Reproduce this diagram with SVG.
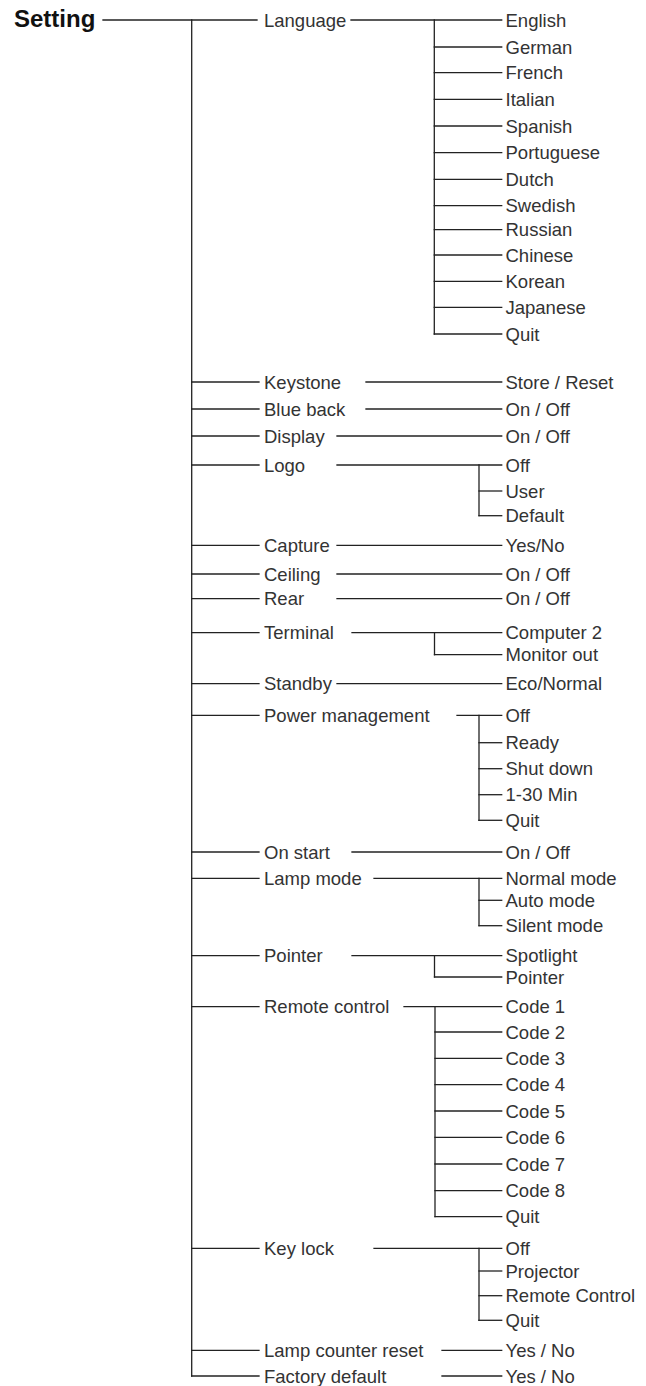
<svg xmlns="http://www.w3.org/2000/svg" width="646" height="1386" viewBox="0 0 646 1386">
<style>
.t{font-family:"Liberation Sans",Arial,sans-serif;font-size:18.5px;fill:#333}
.h{font-family:"Liberation Sans",Arial,sans-serif;font-size:24px;font-weight:bold;fill:#111}
.c line{stroke:#222;stroke-width:1.3;stroke-linecap:square}
</style>
<rect width="646" height="1386" fill="#fff"/>
<g class="c" id="connectors">
<line x1="103" y1="20" x2="257" y2="20"/>
<line x1="191.7" y1="20" x2="191.7" y2="1376"/>
<line x1="191.7" y1="382" x2="259" y2="382"/>
<line x1="191.7" y1="409" x2="259" y2="409"/>
<line x1="191.7" y1="436" x2="259" y2="436"/>
<line x1="191.7" y1="465" x2="259" y2="465"/>
<line x1="191.7" y1="545.3" x2="259" y2="545.3"/>
<line x1="191.7" y1="574" x2="259" y2="574"/>
<line x1="191.7" y1="598.7" x2="259" y2="598.7"/>
<line x1="191.7" y1="632.7" x2="259" y2="632.7"/>
<line x1="191.7" y1="683.7" x2="259" y2="683.7"/>
<line x1="191.7" y1="715.3" x2="259" y2="715.3"/>
<line x1="191.7" y1="852" x2="259" y2="852"/>
<line x1="191.7" y1="878.3" x2="259" y2="878.3"/>
<line x1="191.7" y1="955.7" x2="259" y2="955.7"/>
<line x1="191.7" y1="1006.7" x2="259" y2="1006.7"/>
<line x1="191.7" y1="1248.3" x2="259" y2="1248.3"/>
<line x1="191.7" y1="1350.3" x2="259" y2="1350.3"/>
<line x1="191.7" y1="1376" x2="259" y2="1376"/>
<line x1="351" y1="20" x2="501.7" y2="20"/>
<line x1="434.3" y1="20" x2="434.3" y2="334"/>
<line x1="434.3" y1="47" x2="501.7" y2="47"/>
<line x1="434.3" y1="72.7" x2="501.7" y2="72.7"/>
<line x1="434.3" y1="99.3" x2="501.7" y2="99.3"/>
<line x1="434.3" y1="126" x2="501.7" y2="126"/>
<line x1="434.3" y1="152.7" x2="501.7" y2="152.7"/>
<line x1="434.3" y1="179.3" x2="501.7" y2="179.3"/>
<line x1="434.3" y1="205.7" x2="501.7" y2="205.7"/>
<line x1="434.3" y1="229.7" x2="501.7" y2="229.7"/>
<line x1="434.3" y1="255" x2="501.7" y2="255"/>
<line x1="434.3" y1="281.3" x2="501.7" y2="281.3"/>
<line x1="434.3" y1="307.3" x2="501.7" y2="307.3"/>
<line x1="434.3" y1="334" x2="501.7" y2="334"/>
<line x1="366" y1="382" x2="501.7" y2="382"/>
<line x1="366" y1="409" x2="501.7" y2="409"/>
<line x1="337" y1="436" x2="501.7" y2="436"/>
<line x1="337" y1="465" x2="501.7" y2="465"/>
<line x1="479" y1="465" x2="479" y2="515.7"/>
<line x1="479" y1="491" x2="501.7" y2="491"/>
<line x1="479" y1="515.7" x2="501.7" y2="515.7"/>
<line x1="337" y1="545.3" x2="501.7" y2="545.3"/>
<line x1="337" y1="574" x2="501.7" y2="574"/>
<line x1="337" y1="598.7" x2="501.7" y2="598.7"/>
<line x1="352" y1="632.7" x2="501.7" y2="632.7"/>
<line x1="434.5" y1="632.7" x2="434.5" y2="654.7"/>
<line x1="434.5" y1="654.7" x2="501.7" y2="654.7"/>
<line x1="337" y1="683.7" x2="501.7" y2="683.7"/>
<line x1="457" y1="715.3" x2="501.7" y2="715.3"/>
<line x1="479" y1="715.3" x2="479" y2="820.3"/>
<line x1="479" y1="742.7" x2="501.7" y2="742.7"/>
<line x1="479" y1="768.7" x2="501.7" y2="768.7"/>
<line x1="479" y1="794.7" x2="501.7" y2="794.7"/>
<line x1="479" y1="820.3" x2="501.7" y2="820.3"/>
<line x1="352" y1="852" x2="501.7" y2="852"/>
<line x1="374" y1="878.3" x2="501.7" y2="878.3"/>
<line x1="479" y1="878.3" x2="479" y2="925.7"/>
<line x1="479" y1="900.3" x2="501.7" y2="900.3"/>
<line x1="479" y1="925.7" x2="501.7" y2="925.7"/>
<line x1="352" y1="955.7" x2="501.7" y2="955.7"/>
<line x1="434.5" y1="955.7" x2="434.5" y2="977"/>
<line x1="434.5" y1="977" x2="501.7" y2="977"/>
<line x1="404" y1="1006.7" x2="501.7" y2="1006.7"/>
<line x1="435" y1="1006.7" x2="435" y2="1216.7"/>
<line x1="435" y1="1032" x2="501.7" y2="1032"/>
<line x1="435" y1="1058.3" x2="501.7" y2="1058.3"/>
<line x1="435" y1="1084.7" x2="501.7" y2="1084.7"/>
<line x1="435" y1="1111" x2="501.7" y2="1111"/>
<line x1="435" y1="1137.3" x2="501.7" y2="1137.3"/>
<line x1="435" y1="1164" x2="501.7" y2="1164"/>
<line x1="435" y1="1190.7" x2="501.7" y2="1190.7"/>
<line x1="435" y1="1216.7" x2="501.7" y2="1216.7"/>
<line x1="374" y1="1248.3" x2="501.7" y2="1248.3"/>
<line x1="479" y1="1248.3" x2="479" y2="1320.3"/>
<line x1="479" y1="1271" x2="501.7" y2="1271"/>
<line x1="479" y1="1295.7" x2="501.7" y2="1295.7"/>
<line x1="479" y1="1320.3" x2="501.7" y2="1320.3"/>
<line x1="442" y1="1350.3" x2="501.7" y2="1350.3"/>
<line x1="442" y1="1376" x2="501.7" y2="1376"/>
</g>
<g id="setting"><text class="h" x="14" y="27">Setting</text></g>
<g id="menu-items">
<g id="language"><text class="t" x="264" y="26.5">Language</text></g>
<g id="keystone"><text class="t" x="264" y="388.5">Keystone</text></g>
<g id="blue-back"><text class="t" x="264" y="415.5">Blue back</text></g>
<g id="display"><text class="t" x="264" y="442.5">Display</text></g>
<g id="logo"><text class="t" x="264" y="471.5">Logo</text></g>
<g id="capture"><text class="t" x="264" y="551.8">Capture</text></g>
<g id="ceiling"><text class="t" x="264" y="580.5">Ceiling</text></g>
<g id="rear"><text class="t" x="264" y="605.2">Rear</text></g>
<g id="terminal"><text class="t" x="264" y="639.2">Terminal</text></g>
<g id="standby"><text class="t" x="264" y="690.2">Standby</text></g>
<g id="power-management"><text class="t" x="264" y="721.8">Power management</text></g>
<g id="on-start"><text class="t" x="264" y="858.5">On start</text></g>
<g id="lamp-mode"><text class="t" x="264" y="884.8">Lamp mode</text></g>
<g id="pointer"><text class="t" x="264" y="962.2">Pointer</text></g>
<g id="remote-control"><text class="t" x="264" y="1013.2">Remote control</text></g>
<g id="key-lock"><text class="t" x="264" y="1254.8">Key lock</text></g>
<g id="lamp-counter-reset"><text class="t" x="264" y="1356.8">Lamp counter reset</text></g>
<g id="factory-default"><text class="t" x="264" y="1382.5">Factory default</text></g>
</g>
<g id="options">
<g id="lang-english"><text class="t" x="505.5" y="26.5">English</text></g>
<g id="lang-german"><text class="t" x="505.5" y="53.5">German</text></g>
<g id="lang-french"><text class="t" x="505.5" y="79.2">French</text></g>
<g id="lang-italian"><text class="t" x="505.5" y="105.8">Italian</text></g>
<g id="lang-spanish"><text class="t" x="505.5" y="132.5">Spanish</text></g>
<g id="lang-portuguese"><text class="t" x="505.5" y="159.2">Portuguese</text></g>
<g id="lang-dutch"><text class="t" x="505.5" y="185.8">Dutch</text></g>
<g id="lang-swedish"><text class="t" x="505.5" y="212.2">Swedish</text></g>
<g id="lang-russian"><text class="t" x="505.5" y="236.2">Russian</text></g>
<g id="lang-chinese"><text class="t" x="505.5" y="261.5">Chinese</text></g>
<g id="lang-korean"><text class="t" x="505.5" y="287.8">Korean</text></g>
<g id="lang-japanese"><text class="t" x="505.5" y="313.8">Japanese</text></g>
<g id="lang-quit"><text class="t" x="505.5" y="340.5">Quit</text></g>
<g id="keystone-opt"><text class="t" x="505.5" y="388.5">Store / Reset</text></g>
<g id="blueback-opt"><text class="t" x="505.5" y="415.5">On / Off</text></g>
<g id="display-opt"><text class="t" x="505.5" y="442.5">On / Off</text></g>
<g id="logo-off"><text class="t" x="505.5" y="471.5">Off</text></g>
<g id="logo-user"><text class="t" x="505.5" y="497.5">User</text></g>
<g id="logo-default"><text class="t" x="505.5" y="522.2">Default</text></g>
<g id="capture-opt"><text class="t" x="505.5" y="551.8">Yes/No</text></g>
<g id="ceiling-opt"><text class="t" x="505.5" y="580.5">On / Off</text></g>
<g id="rear-opt"><text class="t" x="505.5" y="605.2">On / Off</text></g>
<g id="term-comp2"><text class="t" x="505.5" y="639.2">Computer 2</text></g>
<g id="term-monitor"><text class="t" x="505.5" y="661.2">Monitor out</text></g>
<g id="standby-opt"><text class="t" x="505.5" y="690.2">Eco/Normal</text></g>
<g id="pm-off"><text class="t" x="505.5" y="721.8">Off</text></g>
<g id="pm-ready"><text class="t" x="505.5" y="749.2">Ready</text></g>
<g id="pm-shut"><text class="t" x="505.5" y="775.2">Shut down</text></g>
<g id="pm-min"><text class="t" x="505.5" y="801.2">1-30 Min</text></g>
<g id="pm-quit"><text class="t" x="505.5" y="826.8">Quit</text></g>
<g id="onstart-opt"><text class="t" x="505.5" y="858.5">On / Off</text></g>
<g id="lamp-normal"><text class="t" x="505.5" y="884.8">Normal mode</text></g>
<g id="lamp-auto"><text class="t" x="505.5" y="906.8">Auto mode</text></g>
<g id="lamp-silent"><text class="t" x="505.5" y="932.2">Silent mode</text></g>
<g id="ptr-spot"><text class="t" x="505.5" y="962.2">Spotlight</text></g>
<g id="ptr-pointer"><text class="t" x="505.5" y="983.5">Pointer</text></g>
<g id="code1"><text class="t" x="505.5" y="1013.2">Code 1</text></g>
<g id="code2"><text class="t" x="505.5" y="1038.5">Code 2</text></g>
<g id="code3"><text class="t" x="505.5" y="1064.8">Code 3</text></g>
<g id="code4"><text class="t" x="505.5" y="1091.2">Code 4</text></g>
<g id="code5"><text class="t" x="505.5" y="1117.5">Code 5</text></g>
<g id="code6"><text class="t" x="505.5" y="1143.8">Code 6</text></g>
<g id="code7"><text class="t" x="505.5" y="1170.5">Code 7</text></g>
<g id="code8"><text class="t" x="505.5" y="1197.2">Code 8</text></g>
<g id="code-quit"><text class="t" x="505.5" y="1223.2">Quit</text></g>
<g id="kl-off"><text class="t" x="505.5" y="1254.8">Off</text></g>
<g id="kl-proj"><text class="t" x="505.5" y="1277.5">Projector</text></g>
<g id="kl-rc"><text class="t" x="505.5" y="1302.2">Remote Control</text></g>
<g id="kl-quit"><text class="t" x="505.5" y="1326.8">Quit</text></g>
<g id="lcr-opt"><text class="t" x="505.5" y="1356.8">Yes / No</text></g>
<g id="fd-opt"><text class="t" x="505.5" y="1382.5">Yes / No</text></g>
</g>
</svg>
